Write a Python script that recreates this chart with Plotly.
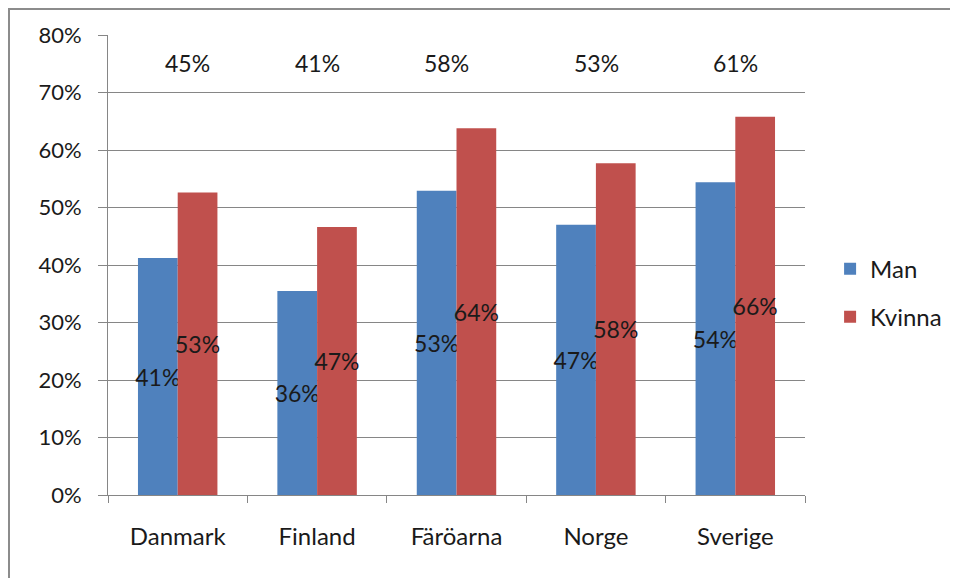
import plotly.graph_objects as go

categories = ["Danmark", "Finland", "Färöarna", "Norge", "Sverige"]
man = [0.412, 0.355, 0.529, 0.470, 0.544]
kvinna = [0.526, 0.466, 0.638, 0.577, 0.658]
totals = [0.45, 0.41, 0.58, 0.53, 0.61]
y_ticks = [0, 0.1, 0.2, 0.3, 0.4, 0.5, 0.6, 0.7, 0.8]

FONT = "Lato"
FS_NUM = 22
FS_LBL = 23
FS_TXT = 24
GRID = "#868686"
TXT = "#1a1a1a"

fig = go.Figure()
fig.add_trace(go.Bar(
    name="Man", x=categories, y=man,
    text=[f"{round(v * 100)}%" for v in man],
    marker_color="#4F81BD", legendgroup="a",
))
fig.add_trace(go.Bar(
    name="Kvinna", x=categories, y=kvinna,
    text=[f"{round(v * 100)}%" for v in kvinna],
    marker_color="#C0504D", legendgroup="b",
))
fig.update_traces(
    textposition="inside", insidetextanchor="middle", textangle=0,
    constraintext="none", cliponaxis=False,
    textfont=dict(family=FONT, size=FS_LBL, color=TXT),
    marker_line_width=0,
)

xshifts = [10, 0, -10, 1, 0]
for c, t, dx in zip(categories, totals, xshifts):
    fig.add_annotation(
        x=c, y=0.752, text=f"{round(t * 100)}%", showarrow=False, xshift=dx,
        font=dict(family=FONT, size=FS_LBL, color=TXT),
    )

# chart frame
fig.add_shape(
    type="rect", xref="paper", yref="paper",
    x0=-99 / 697, x1=870 / 697, y0=-100 / 460, y1=486 / 460,
    line=dict(color="#8c8c8c", width=2), fillcolor="rgba(0,0,0,0)",
    layer="below",
)

fig.update_layout(
    width=958, height=578,
    margin=dict(l=100, r=161, t=27, b=91),
    paper_bgcolor="white", plot_bgcolor="white",
    barmode="group", bargap=0.43, bargroupgap=0,
    font=dict(family=FONT, size=FS_TXT, color=TXT),
    legend=dict(
        x=1.036, y=0.439, xanchor="left", yanchor="middle",
        traceorder="grouped", tracegroupgap=14,
        font=dict(family=FONT, size=FS_TXT, color=TXT),
        itemwidth=30,
    ),
    showlegend=True,
)
fig.update_yaxes(
    range=[0, 0.8], tickvals=y_ticks, tickformat=".0%",
    showgrid=True, gridcolor=GRID, gridwidth=1,
    showline=True, linecolor=GRID, linewidth=1,
    ticks="outside", ticklen=9, tickcolor=GRID,
    ticklabelstandoff=12, zeroline=False,
    tickfont=dict(family=FONT, size=FS_NUM, color=TXT),
)
fig.update_xaxes(
    showline=True, linecolor=GRID, linewidth=1,
    ticks="outside", ticklen=7, tickcolor=GRID, tickson="boundaries",
    ticklabelstandoff=20,
    tickfont=dict(family=FONT, size=FS_TXT, color=TXT),
)

fig.write_html("out.html")
